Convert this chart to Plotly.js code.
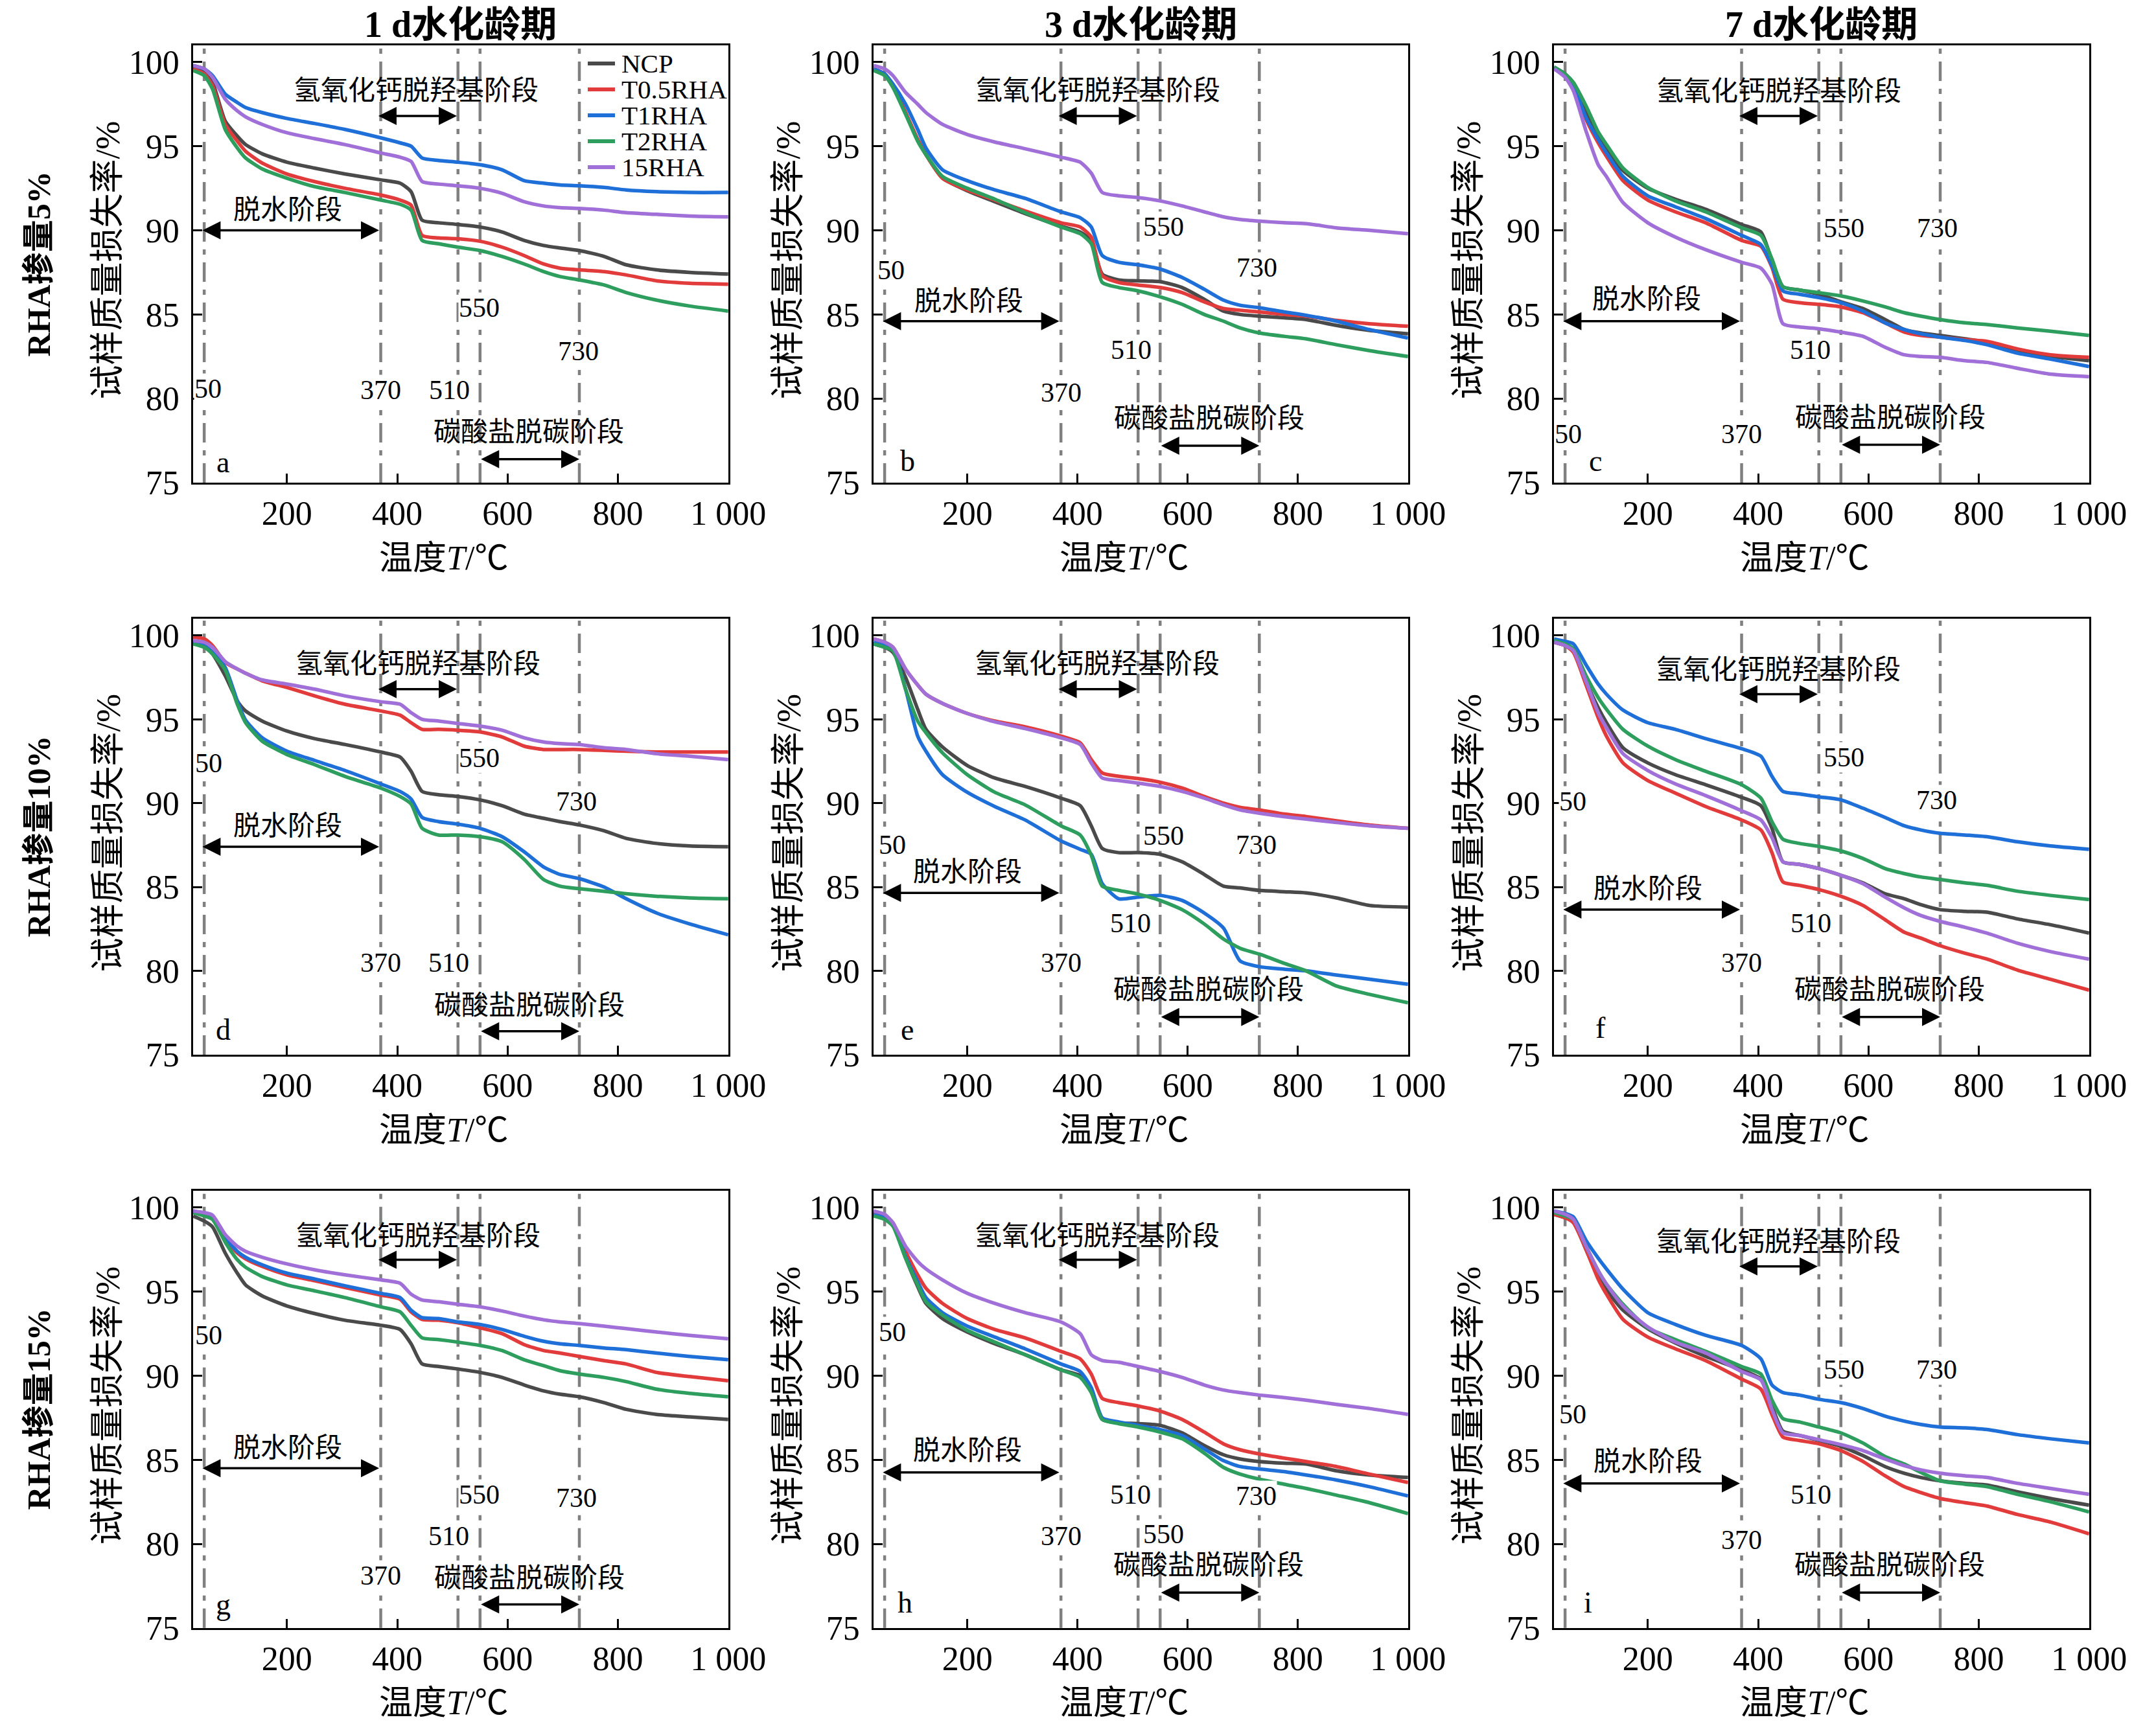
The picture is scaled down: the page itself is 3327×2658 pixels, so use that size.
<!DOCTYPE html>
<html>
<head>
<meta charset="utf-8">
<script src="https://cdn.plot.ly/plotly-3.0.1.min.js"></script>
<style>
  html, body { margin: 0; padding: 0; background: #fff; }
  #chart { width: 3327px; height: 2658px; }
</style>
</head>
<body>
<div id="chart"></div>
<script>
// TG curves of cement pastes with rice husk ash (RHA), 3 dosages x 3 curing ages

// temperature grid shared by every curve (°C)
const TEMP = [30, 50, 65, 88, 110, 125, 155, 200, 250, 305, 370, 405, 425, 445, 475, 510, 550, 590, 630, 665, 695, 730, 775, 815, 870, 930, 1000];

const SERIES_NAMES = ['NCP', 'T0.5RHA', 'T1RHA', 'T2RHA', '15RHA'];
const STAGE_TEMPS = [50, 370, 510, 550, 730];
const COL_LABELS = ['1 d水化龄期', '3 d水化龄期', '7 d水化龄期'];
const ROW_LABELS = ['RHA掺量5%', 'RHA掺量10%', 'RHA掺量15%'];
const PANEL_LETTERS = ['a', 'b', 'c', 'd', 'e', 'f', 'g', 'h', 'i'];
const XTICK_VALS = [200, 400, 600, 800, 1000];
const XTICK_TEXT = ['200', '400', '600', '800', '1 000'];
const YTICK_VALS = [75, 80, 85, 90, 95, 100];

// panel a : RHA 5%, 1 d
const A_NCP = [99.7, 99.4, 98.8, 96.5, 95.6, 95.1, 94.55, 94.05, 93.7, 93.35, 93.0, 92.8, 92.3, 90.6, 90.45, 90.35, 90.2, 89.9, 89.4, 89.1, 88.95, 88.8, 88.45, 87.95, 87.65, 87.5, 87.4];
const A_T05 = [99.6, 99.3, 98.6, 96.3, 95.3, 94.7, 94.0, 93.35, 92.9, 92.5, 92.1, 91.8, 91.5, 89.7, 89.55, 89.5, 89.35, 89.0, 88.5, 88.0, 87.75, 87.65, 87.55, 87.35, 87.0, 86.85, 86.8];
const A_T1 = [99.8, 99.6, 99.2, 98.1, 97.6, 97.3, 97.0, 96.65, 96.35, 96.0, 95.5, 95.2, 95.0, 94.3, 94.15, 94.05, 93.9, 93.6, 92.95, 92.8, 92.7, 92.65, 92.55, 92.4, 92.3, 92.25, 92.25];
const A_T2 = [99.5, 99.2, 98.4, 96.0, 94.9, 94.3, 93.65, 93.1, 92.6, 92.25, 91.8, 91.55, 91.2, 89.4, 89.2, 89.0, 88.8, 88.45, 88.0, 87.55, 87.25, 87.05, 86.75, 86.3, 85.85, 85.5, 85.2];
const A_R15 = [99.8, 99.6, 99.1, 97.8, 97.1, 96.75, 96.3, 95.8, 95.45, 95.1, 94.6, 94.35, 94.1, 92.9, 92.75, 92.65, 92.5, 92.2, 91.7, 91.45, 91.35, 91.3, 91.2, 91.05, 90.95, 90.85, 90.8];

// panel b : RHA 5%, 3 d
const B_NCP = [99.6, 99.3, 98.6, 97.0, 95.4, 94.5, 93.1, 92.35, 91.7, 91.0, 90.25, 89.9, 89.4, 87.4, 87.05, 87.0, 86.95, 86.6, 85.9, 85.2, 85.0, 84.9, 84.8, 84.7, 84.35, 84.05, 83.85];
const B_T05 = [99.6, 99.3, 98.6, 97.0, 95.4, 94.5, 93.1, 92.4, 91.8, 91.15, 90.45, 90.2, 89.6, 87.3, 86.9, 86.75, 86.6, 86.3, 85.75, 85.35, 85.25, 85.15, 85.0, 84.9, 84.65, 84.45, 84.3];
const B_T1 = [99.6, 99.3, 98.7, 97.5, 96.0, 94.9, 93.6, 92.95, 92.4, 91.9, 91.1, 90.75, 90.2, 88.5, 88.1, 87.95, 87.7, 87.2, 86.5, 85.85, 85.55, 85.4, 85.15, 84.95, 84.6, 84.1, 83.6];
const B_T2 = [99.5, 99.2, 98.5, 96.9, 95.3, 94.5, 93.2, 92.5, 91.85, 91.05, 90.2, 89.8, 89.2, 86.9, 86.6, 86.4, 86.05, 85.6, 85.0, 84.6, 84.2, 83.9, 83.7, 83.55, 83.2, 82.85, 82.5];
const B_R15 = [99.8, 99.6, 99.2, 98.2, 97.5, 97.0, 96.3, 95.7, 95.25, 94.85, 94.35, 94.05, 93.4, 92.25, 92.05, 91.95, 91.75, 91.45, 91.1, 90.8, 90.65, 90.55, 90.45, 90.4, 90.15, 90.0, 89.8];

// panel c : RHA 5%, 7 d
const C_NCP = [99.7, 99.3, 98.7, 97.0, 95.5, 94.8, 93.55, 92.5, 91.85, 91.25, 90.35, 89.9, 88.2, 86.65, 86.45, 86.2, 85.75, 85.35, 84.7, 84.1, 83.9, 83.75, 83.55, 83.35, 82.75, 82.5, 82.25];
const C_T05 = [99.7, 99.2, 98.6, 96.6, 95.2, 94.4, 92.95, 91.8, 91.1, 90.45, 89.4, 89.05, 87.8, 85.9, 85.7, 85.6, 85.45, 85.1, 84.5, 83.95, 83.75, 83.65, 83.5, 83.4, 82.95, 82.6, 82.45];
const C_T1 = [99.7, 99.2, 98.6, 96.7, 95.4, 94.6, 93.2, 92.05, 91.4, 90.7, 89.7, 89.15, 87.9, 86.4, 86.2, 86.0, 85.7, 85.2, 84.5, 84.1, 83.85, 83.65, 83.45, 83.2, 82.7, 82.35, 81.9];
const C_T2 = [99.7, 99.3, 98.8, 97.4, 95.85, 95.1, 93.7, 92.55, 91.75, 91.1, 90.15, 89.7, 88.3, 86.65, 86.45, 86.3, 86.1, 85.8, 85.45, 85.1, 84.9, 84.7, 84.5, 84.4, 84.2, 84.0, 83.75];
const C_R15 = [99.6, 99.1, 98.3, 95.9, 93.9, 93.2, 91.65, 90.45, 89.6, 88.85, 88.1, 87.75, 86.8, 84.45, 84.25, 84.15, 83.95, 83.7, 83.05, 82.6, 82.5, 82.45, 82.25, 82.15, 81.8, 81.45, 81.3];

// panel d : RHA 10%, 1 d
const D_NCP = [99.6, 99.4, 98.9, 97.6, 96.1, 95.5, 94.9, 94.3, 93.85, 93.5, 93.05, 92.75, 91.9, 90.7, 90.5, 90.4, 90.2, 89.85, 89.35, 89.1, 88.9, 88.7, 88.35, 87.9, 87.6, 87.45, 87.4];
const D_T05 = [99.9, 99.8, 99.4, 98.4, 98.0, 97.75, 97.3, 96.9, 96.4, 95.9, 95.5, 95.25, 94.8, 94.4, 94.4, 94.35, 94.25, 93.95, 93.4, 93.2, 93.2, 93.2, 93.15, 93.1, 93.05, 93.05, 93.05];
const D_T1 = [99.6, 99.4, 99.0, 98.1, 96.1, 94.95, 93.9, 93.1, 92.55, 91.95, 91.15, 90.7, 90.25, 89.15, 88.9, 88.75, 88.5, 88.0, 87.1, 86.2, 85.75, 85.5, 85.0, 84.3, 83.45, 82.8, 82.15];
const D_T2 = [99.5, 99.3, 98.9, 97.95, 95.9, 94.8, 93.7, 92.9, 92.3, 91.6, 90.9, 90.4, 89.95, 88.5, 88.1, 88.1, 88.0, 87.7, 86.65, 85.45, 85.05, 84.9, 84.75, 84.6, 84.45, 84.35, 84.3];
const D_R15 = [99.7, 99.6, 99.3, 98.45, 98.0, 97.75, 97.35, 97.1, 96.8, 96.4, 96.05, 95.9, 95.4, 95.0, 94.9, 94.75, 94.6, 94.35, 93.9, 93.65, 93.55, 93.5, 93.3, 93.2, 92.95, 92.8, 92.6];

// panel e : RHA 10%, 3 d
const E_NCP = [99.5, 99.3, 99.0, 97.5, 95.6, 94.4, 93.35, 92.25, 91.5, 91.0, 90.3, 89.85, 88.65, 87.3, 87.05, 87.05, 86.95, 86.5, 85.75, 85.05, 84.95, 84.8, 84.72, 84.65, 84.35, 83.9, 83.8];
const E_T05 = [99.8, 99.6, 99.3, 98.0, 97.05, 96.5, 95.95, 95.35, 94.9, 94.55, 94.0, 93.6, 92.6, 91.8, 91.6, 91.47, 91.25, 90.9, 90.4, 90.0, 89.75, 89.6, 89.35, 89.2, 88.95, 88.7, 88.5];
const E_T1 = [99.6, 99.4, 99.2, 96.8, 94.0, 93.1, 91.7, 90.65, 89.8, 89.0, 87.75, 87.25, 86.95, 85.2, 84.3, 84.4, 84.5, 84.2, 83.45, 82.55, 80.6, 80.25, 80.1, 80.0, 79.75, 79.5, 79.2];
const E_T2 = [99.5, 99.3, 99.1, 96.8, 94.9, 94.2, 93.0, 91.7, 90.65, 89.9, 88.65, 88.1, 86.9, 85.05, 84.8, 84.58, 84.2, 83.65, 82.8, 81.9, 81.35, 81.0, 80.45, 80.0, 79.1, 78.6, 78.1];
const E_R15 = [99.8, 99.6, 99.3, 98.0, 97.05, 96.5, 95.95, 95.35, 94.85, 94.45, 93.9, 93.5, 92.4, 91.5, 91.35, 91.2, 91.0, 90.7, 90.3, 89.9, 89.6, 89.4, 89.2, 89.05, 88.85, 88.65, 88.5];

// panel f : RHA 10%, 7 d
const F_NCP = [99.6, 99.4, 99.1, 97.25, 95.7, 94.8, 93.3, 92.4, 91.7, 91.1, 90.35, 89.85, 88.5, 86.5, 86.35, 86.1, 85.7, 85.25, 84.6, 84.3, 83.95, 83.65, 83.55, 83.5, 83.1, 82.75, 82.25];
const F_T05 = [99.6, 99.4, 99.0, 97.05, 95.1, 94.0, 92.4, 91.35, 90.6, 89.8, 89.0, 88.4, 87.05, 85.3, 85.1, 84.85, 84.45, 83.9, 83.05, 82.3, 81.95, 81.5, 81.05, 80.7, 80.05, 79.5, 78.85];
const F_T1 = [99.8, 99.65, 99.5, 98.25, 97.1, 96.5, 95.55, 94.8, 94.4, 93.85, 93.25, 92.8, 91.6, 90.7, 90.55, 90.38, 90.2, 89.7, 89.15, 88.65, 88.4, 88.2, 88.1, 88.0, 87.7, 87.45, 87.25];
const F_T2 = [99.7, 99.5, 99.2, 97.6, 96.3, 95.6, 94.4, 93.4, 92.6, 91.9, 91.1, 90.3, 88.9, 87.85, 87.6, 87.42, 87.15, 86.7, 86.1, 85.8, 85.6, 85.45, 85.25, 85.1, 84.75, 84.5, 84.25];
const F_R15 = [99.6, 99.4, 99.1, 97.25, 95.4, 94.5, 92.95, 91.95, 91.15, 90.45, 89.55, 89.0, 87.95, 86.5, 86.35, 86.1, 85.7, 85.2, 84.4, 83.75, 83.3, 82.95, 82.6, 82.25, 81.65, 81.15, 80.7];

// panel g : RHA 15%, 1 d
const G_NCP = [99.5, 99.2, 98.85, 97.3, 96.1, 95.4, 94.75, 94.15, 93.7, 93.3, 93.0, 92.75, 91.9, 90.7, 90.55, 90.4, 90.2, 89.9, 89.45, 89.1, 88.9, 88.75, 88.4, 88.0, 87.7, 87.55, 87.4];
const G_T05 = [99.8, 99.6, 99.4, 98.15, 97.3, 96.95, 96.5, 96.0, 95.65, 95.25, 94.8, 94.55, 93.8, 93.35, 93.3, 93.15, 92.85, 92.5, 91.85, 91.5, 91.35, 91.15, 90.9, 90.7, 90.2, 89.95, 89.7];
const G_T1 = [99.8, 99.6, 99.4, 98.2, 97.4, 97.05, 96.6, 96.1, 95.75, 95.35, 94.9, 94.65, 93.9, 93.45, 93.4, 93.2, 93.05, 92.75, 92.35, 92.05, 91.9, 91.8, 91.65, 91.55, 91.35, 91.15, 90.95];
const G_T2 = [99.7, 99.5, 99.3, 97.95, 96.9, 96.45, 95.9, 95.4, 95.05, 94.65, 94.1, 93.8, 93.0, 92.25, 92.15, 92.0, 91.8, 91.5, 90.95, 90.6, 90.3, 90.1, 89.9, 89.65, 89.2, 88.95, 88.75];
const G_R15 = [99.8, 99.7, 99.55, 98.4, 97.7, 97.4, 97.05, 96.65, 96.3, 96.0, 95.7, 95.5, 94.85, 94.5, 94.4, 94.25, 94.1, 93.85, 93.55, 93.33, 93.2, 93.1, 92.95, 92.8, 92.6, 92.4, 92.2];

// panel h : RHA 15%, 3 d
const H_NCP = [99.6, 99.4, 99.0, 97.0, 95.3, 94.3, 93.4, 92.6, 91.9, 91.25, 90.35, 90.0, 89.15, 87.4, 87.2, 87.15, 87.05, 86.6, 85.85, 85.3, 85.05, 84.9, 84.8, 84.75, 84.35, 84.1, 83.95];
const H_T05 = [99.7, 99.5, 99.1, 97.4, 96.0, 95.2, 94.3, 93.4, 92.75, 92.25, 91.45, 91.0, 90.1, 88.65, 88.4, 88.2, 87.9, 87.4, 86.65, 85.95, 85.6, 85.35, 85.1, 84.9, 84.6, 84.15, 83.65];
const H_T1 = [99.6, 99.4, 99.0, 97.1, 95.6, 94.65, 93.75, 92.95, 92.3, 91.6, 90.7, 90.25, 89.3, 87.5, 87.25, 87.05, 86.8, 86.45, 85.65, 84.95, 84.6, 84.45, 84.3, 84.1, 83.8, 83.4, 82.85];
const H_T2 = [99.5, 99.3, 98.9, 97.0, 95.4, 94.4, 93.6, 92.7, 92.0, 91.25, 90.35, 89.9, 89.0, 87.4, 87.15, 86.95, 86.65, 86.25, 85.4, 84.55, 84.15, 83.85, 83.55, 83.3, 82.9, 82.45, 81.8];
const H_R15 = [99.8, 99.6, 99.1, 97.7, 96.8, 96.35, 95.7, 94.9, 94.3, 93.75, 93.2, 92.5, 91.25, 90.9, 90.8, 90.55, 90.25, 89.9, 89.45, 89.15, 89.0, 88.85, 88.7, 88.55, 88.3, 88.05, 87.7];

// panel i : RHA 15%, 7 d
const I_NCP = [99.6, 99.4, 99.2, 97.5, 95.9, 95.1, 93.9, 92.8, 91.95, 91.15, 90.35, 89.8, 88.2, 86.7, 86.45, 86.15, 85.8, 85.25, 84.6, 84.2, 83.95, 83.75, 83.6, 83.5, 83.1, 82.7, 82.3];
const I_T05 = [99.6, 99.4, 99.1, 97.5, 95.75, 94.85, 93.35, 92.3, 91.6, 90.9, 89.8, 89.2, 87.7, 86.35, 86.15, 85.95, 85.55, 84.9, 84.05, 83.4, 83.05, 82.7, 82.45, 82.25, 81.75, 81.3, 80.6];
const I_T1 = [99.8, 99.65, 99.45, 98.05, 97.0, 96.35, 95.15, 93.75, 93.05, 92.4, 91.8, 91.0, 89.45, 89.0, 88.85, 88.6, 88.4, 88.05, 87.6, 87.3, 87.1, 86.95, 86.9, 86.8, 86.5, 86.25, 86.0];
const I_T2 = [99.7, 99.5, 99.3, 97.7, 96.25, 95.45, 94.25, 92.85, 92.15, 91.45, 90.55, 90.1, 88.55, 87.45, 87.25, 86.95, 86.6, 86.0, 85.2, 84.75, 84.25, 83.75, 83.55, 83.4, 82.95, 82.5, 81.9];
const I_R15 = [99.8, 99.6, 99.3, 97.7, 96.25, 95.45, 94.15, 92.9, 92.0, 91.35, 90.25, 89.75, 88.0, 86.6, 86.45, 86.2, 85.9, 85.55, 85.05, 84.65, 84.4, 84.2, 84.05, 83.95, 83.6, 83.3, 82.95];

const PANEL_DATA = [
  [A_NCP, A_T05, A_T1, A_T2, A_R15],
  [B_NCP, B_T05, B_T1, B_T2, B_R15],
  [C_NCP, C_T05, C_T1, C_T2, C_R15],
  [D_NCP, D_T05, D_T1, D_T2, D_R15],
  [E_NCP, E_T05, E_T1, E_T2, E_R15],
  [F_NCP, F_T05, F_T1, F_T2, F_R15],
  [G_NCP, G_T05, G_T1, G_T2, G_R15],
  [H_NCP, H_T05, H_T1, H_T2, H_R15],
  [I_NCP, I_T05, I_T1, I_T2, I_R15]
];

// styling
const LINE_COLORS = ['#4a4a4a', '#e23b3b', '#1f6fd8', '#2e9e5e', '#a070d8'];
const SERIF = 'Liberation Serif, Times New Roman, Noto Sans CJK SC, serif';
const W = 3327, H = 2658;
const COL_DOMAINS = [[0.0896, 0.3378], [0.4052, 0.6531], [0.7208, 0.9690]];
const ROW_DOMAINS = [[0.7197, 0.9737], [0.3875, 0.6407], [0.0546, 0.3085]];

// where the stage texts / arrows / numbers sit in each panel (data coords)
const PANEL_TEXT_POS = [
  { ca: [434, 98.3, 96.8], dh: [201, 91.2, 90.0], cb: [638, 78.0, 76.4], nums: [[57, 80.6], [370, 80.5], [494, 80.5], [549, 85.4], [728, 82.8]], letter: [84, 76.2] },
  { ca: [437, 98.3, 96.8], dh: [203, 85.8, 84.6], cb: [639, 78.8, 77.2], nums: [[62, 87.65], [370, 80.35], [497, 82.9], [556, 90.2], [725, 87.8]], letter: [92, 76.3] },
  { ca: [437, 98.25, 96.8], dh: [198, 85.9, 84.6], cb: [640, 78.85, 77.25], nums: [[56, 77.9], [370, 77.9], [494, 82.9], [555, 90.15], [725, 90.15]], letter: [105, 76.3] },
  { ca: [437, 98.3, 96.8], dh: [201, 88.65, 87.4], cb: [639, 77.95, 76.4], nums: [[58, 92.4], [370, 80.5], [493, 80.5], [549, 92.7], [725, 90.1]], letter: [85, 76.5] },
  { ca: [436, 98.3, 96.8], dh: [200, 85.9, 84.65], cb: [638, 78.85, 77.25], nums: [[64, 87.5], [370, 80.5], [496, 82.85], [556, 88.05], [724, 87.5]], letter: [91, 76.5] },
  { ca: [436, 97.95, 96.5], dh: [200, 84.9, 83.65], cb: [638, 78.85, 77.25], nums: [[64, 90.1], [370, 80.5], [496, 82.85], [556, 92.75], [724, 90.2]], letter: [114, 76.6] },
  { ca: [437, 98.3, 96.9], dh: [201, 85.7, 84.5], cb: [639, 77.95, 76.4], nums: [[58, 92.4], [370, 78.1], [493, 80.45], [549, 82.95], [725, 82.75]], letter: [85, 76.4] },
  { ca: [436, 98.3, 96.9], dh: [200, 85.55, 84.25], cb: [638, 78.75, 77.1], nums: [[64, 92.6], [370, 80.45], [496, 82.95], [556, 80.6], [724, 82.85]], letter: [87, 76.5] },
  { ca: [436, 97.95, 96.5], dh: [200, 84.9, 83.6], cb: [638, 78.75, 77.1], nums: [[64, 87.7], [370, 80.25], [496, 82.95], [556, 90.35], [724, 90.35]], letter: [92, 76.5] }
];

// legend box in panel a (pixel positions on the page)
const LEGEND_POS = { lineX0: 907, lineX1: 949, textX: 957, firstY: 98, step: 40 };

function axisIds(i) {
  const n = i === 0 ? '' : String(i + 1);
  return { x: 'x' + n, y: 'y' + n, xKey: 'xaxis' + n, yKey: 'yaxis' + n };
}

function doubleArrow(ids, x0, x1, y) {
  return {
    xref: ids.x, yref: ids.y, axref: ids.x, ayref: ids.y,
    x: x1, y: y, ax: x0, ay: y,
    text: '', showarrow: true,
    arrowhead: 2, startarrowhead: 2, arrowside: 'end+start',
    arrowsize: 1.6, startarrowsize: 1.6, arrowwidth: 3.5,
    arrowcolor: '#000', standoff: 0, startstandoff: 0
  };
}

function buildChart() {
  const traces = [];
  const layout = {
    width: W, height: H,
    margin: { l: 0, r: 0, t: 0, b: 0 },
    paper_bgcolor: 'white', plot_bgcolor: 'white',
    font: { family: SERIF, size: 40, color: '#000' },
    showlegend: false,
    shapes: [],
    annotations: []
  };

  PANEL_DATA.forEach(function (series, i) {
    const ids = axisIds(i);
    const row = Math.floor(i / 3), col = i % 3;
    const pos = PANEL_TEXT_POS[i];

    series.forEach(function (vals, s) {
      traces.push({
        type: 'scatter', mode: 'lines',
        x: TEMP, y: vals,
        xaxis: ids.x, yaxis: ids.y,
        name: SERIES_NAMES[s],
        line: { color: LINE_COLORS[s], width: 5.5, shape: 'spline', smoothing: 0.6 },
        hoverinfo: 'skip'
      });
    });

    layout[ids.xKey] = {
      domain: COL_DOMAINS[col], anchor: ids.y,
      range: [30, 1000], tickvals: XTICK_VALS, ticktext: XTICK_TEXT,
      ticks: 'inside', ticklen: 14, tickwidth: 3, tickcolor: '#000',
      showline: true, linewidth: 3, linecolor: '#000', mirror: true,
      showgrid: false, zeroline: false,
      ticklabelstandoff: 0,
      tickfont: { family: SERIF, size: 52, color: '#000' }
    };
    layout[ids.yKey] = {
      domain: ROW_DOMAINS[row], anchor: ids.x,
      range: [75, 101], tickvals: YTICK_VALS,
      ticks: 'inside', ticklen: 14, tickwidth: 3, tickcolor: '#000',
      showline: true, linewidth: 3, linecolor: '#000', mirror: true,
      showgrid: false, zeroline: false,
      ticklabelstandoff: 8,
      tickfont: { family: SERIF, size: 52, color: '#000' }
    };

    // axis titles
    layout.annotations.push({
      xref: ids.x + ' domain', yref: ids.y + ' domain', x: 0.5, y: 0,
      xanchor: 'center', yanchor: 'middle', xshift: -26, yshift: -116,
      text: '温度<i>T</i>/℃', showarrow: false,
      font: { family: SERIF, size: 52, color: '#000' }
    });
    layout.annotations.push({
      xref: ids.x + ' domain', yref: ids.y + ' domain', x: 0, y: 0.5,
      xanchor: 'center', yanchor: 'middle', xshift: -132, yshift: 6,
      text: '试样质量损失率/%', showarrow: false, textangle: -90,
      font: { family: SERIF, size: 53, color: '#000' }
    });

    // stage boundaries
    STAGE_TEMPS.forEach(function (t) {
      layout.shapes.push({
        type: 'line', xref: ids.x, yref: ids.y + ' domain',
        x0: t, x1: t, y0: 0, y1: 1, layer: 'below',
        line: { color: '#808080', width: 4.5, dash: '30px,12px,8px,12px' }
      });
    });

    // stage names + arrows
    const txt = function (x, y, text) {
      return { xref: ids.x, yref: ids.y, x: x, y: y, text: text, showarrow: false,
               font: { family: SERIF, size: 42, color: '#000' } };
    };
    layout.annotations.push(txt(pos.ca[0], pos.ca[1], '氢氧化钙脱羟基阶段'));
    layout.annotations.push(doubleArrow(ids, STAGE_TEMPS[1] - 6, STAGE_TEMPS[2] - 2, pos.ca[2]));
    layout.annotations.push(txt(pos.dh[0], pos.dh[1], '脱水阶段'));
    layout.annotations.push(doubleArrow(ids, STAGE_TEMPS[0] - 5, STAGE_TEMPS[1] - 3, pos.dh[2]));
    layout.annotations.push(txt(pos.cb[0], pos.cb[1], '碳酸盐脱碳阶段'));
    layout.annotations.push(doubleArrow(ids, STAGE_TEMPS[3], STAGE_TEMPS[4], pos.cb[2]));

    // boundary temperatures
    STAGE_TEMPS.forEach(function (t, k) {
      layout.annotations.push({
        xref: ids.x, yref: ids.y, x: pos.nums[k][0], y: pos.nums[k][1],
        text: String(t), showarrow: false, bgcolor: 'white', borderpad: 0,
        font: { family: SERIF, size: 42, color: '#000' }
      });
    });

    layout.annotations.push({
      xref: ids.x, yref: ids.y, x: pos.letter[0], y: pos.letter[1],
      text: PANEL_LETTERS[i], showarrow: false,
      font: { family: SERIF, size: 46, color: '#000' }
    });
  });

  // legend (panel a only), one entry per series
  SERIES_NAMES.forEach(function (name, s) {
    const yPaper = 1 - (LEGEND_POS.firstY + s * LEGEND_POS.step) / H;
    layout.shapes.push({
      type: 'line', xref: 'paper', yref: 'paper',
      x0: LEGEND_POS.lineX0 / W, x1: LEGEND_POS.lineX1 / W, y0: yPaper, y1: yPaper,
      line: { color: LINE_COLORS[s], width: 6 }
    });
    layout.annotations.push({
      xref: 'paper', yref: 'paper', x: LEGEND_POS.textX / W, y: yPaper,
      xanchor: 'left', yanchor: 'middle', text: name, showarrow: false,
      font: { family: SERIF, size: 41, color: '#000' }
    });
  });

  // column headers (curing age)
  COL_LABELS.forEach(function (label, c) {
    layout.annotations.push({
      xref: 'paper', yref: 'paper',
      x: (COL_DOMAINS[c][0] + COL_DOMAINS[c][1]) / 2, y: 1 - 38 / H,
      xanchor: 'center', yanchor: 'middle',
      text: '<b>' + label + '</b>', showarrow: false,
      font: { family: SERIF, size: 56, color: '#000' }
    });
  });

  // row headers (RHA dosage)
  ROW_LABELS.forEach(function (label, r) {
    layout.annotations.push({
      xref: 'paper', yref: 'paper',
      x: 60 / W, y: (ROW_DOMAINS[r][0] + ROW_DOMAINS[r][1]) / 2,
      xanchor: 'center', yanchor: 'middle',
      text: '<b>' + label + '</b>', showarrow: false, textangle: -90,
      font: { family: SERIF, size: 50, color: '#000' }
    });
  });

  Plotly.newPlot('chart', traces, layout, { displayModeBar: false, responsive: false, staticPlot: true });
}

buildChart();
</script>
</body>
</html>
